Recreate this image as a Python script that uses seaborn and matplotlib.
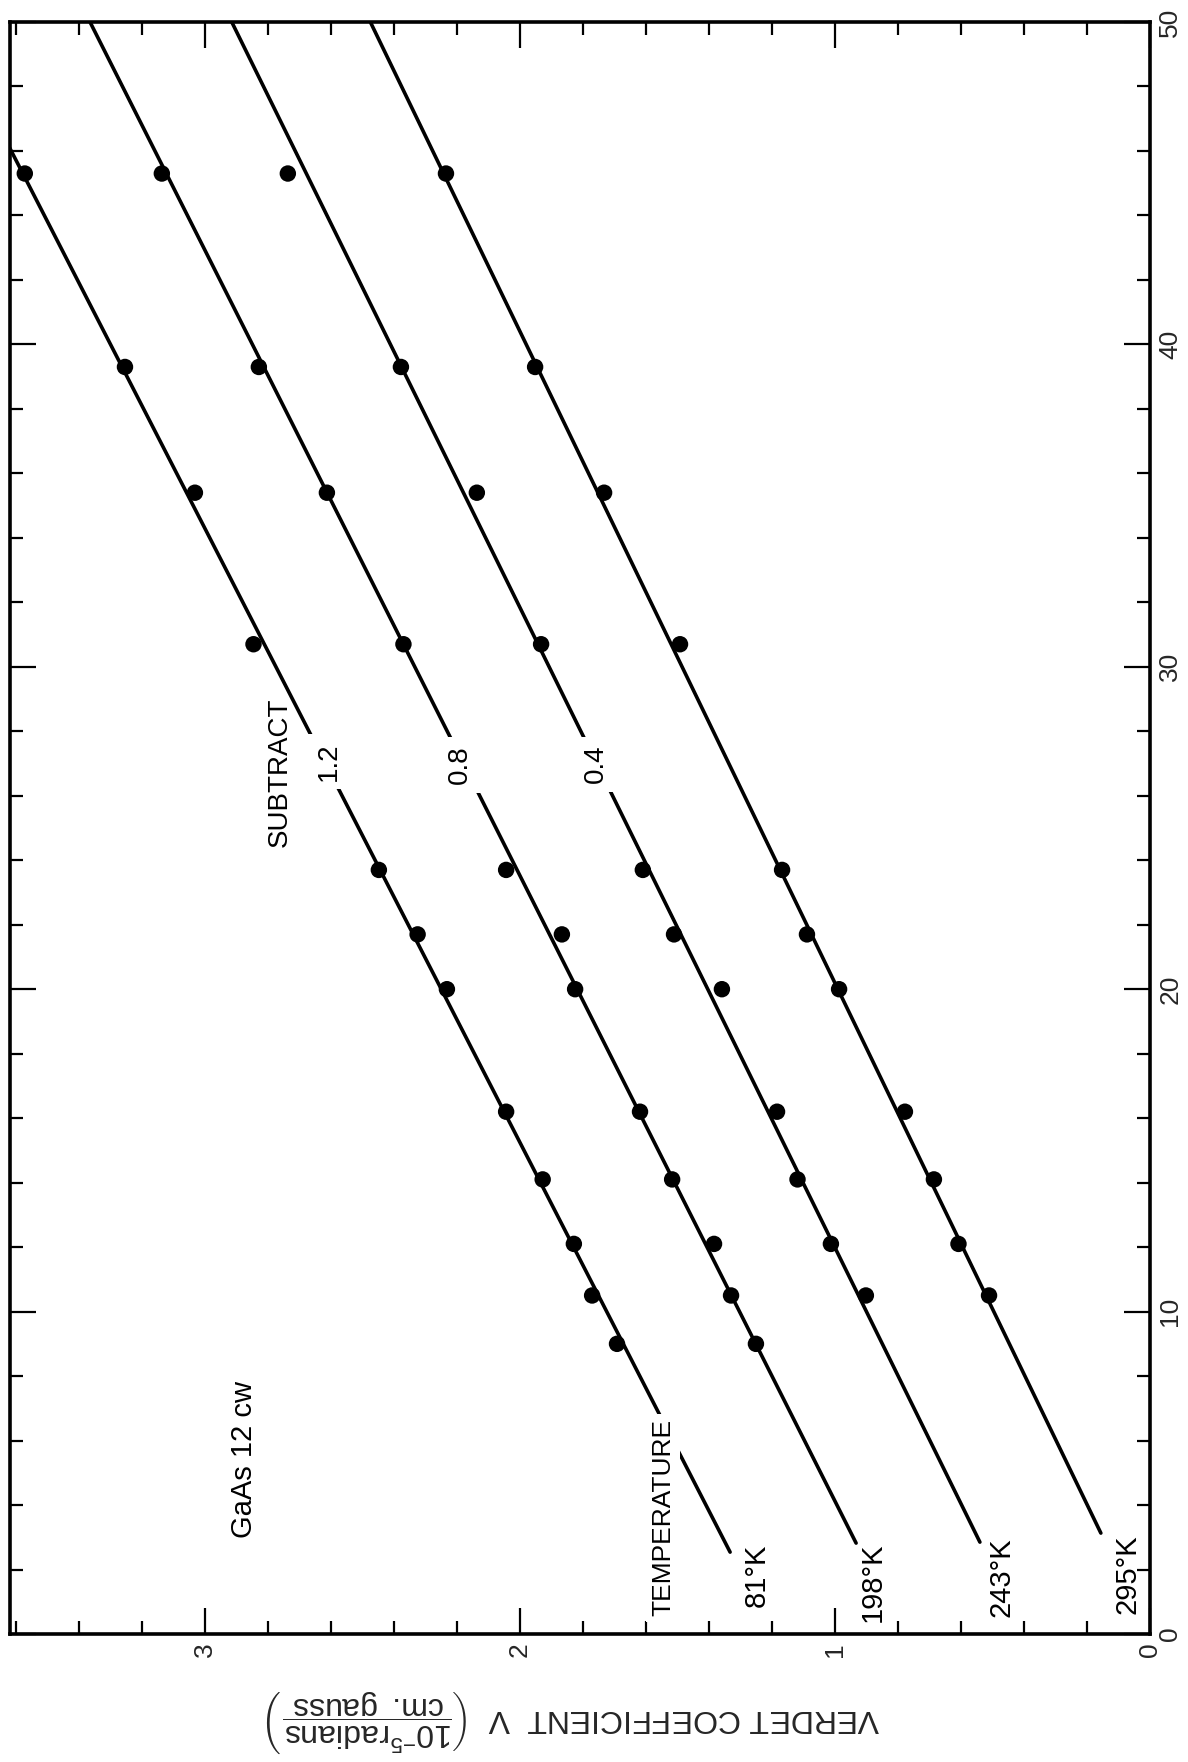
import numpy as np
import pandas as pd
import matplotlib
matplotlib.use("Agg")
import matplotlib.pyplot as plt
import seaborn as sns
from matplotlib.ticker import MultipleLocator

# page is turned a quarter turn: horizontal axis = Verdet coefficient (0 at right),
# vertical axis = the unlabelled 0-50 quantity
lam = [45.3, 39.3, 35.4, 30.7, 23.7, 21.7, 20.0, 16.2, 14.1, 12.1, 10.5, 9.0]

v_81 = [3.572, 3.254, 3.032, 2.846, 2.448, 2.325, 2.232, 2.044, 1.928, 1.829, 1.771, 1.692]
v_198 = [3.137, 2.829, 2.613, 2.370, 2.044, 1.867, 1.825, 1.619, 1.517, 1.384, 1.330, 1.251]
v_243 = [2.737, 2.378, 2.137, 1.933, 1.610, 1.511, 1.359, 1.184, 1.119, 1.013, 0.902]
v_295 = [2.235, 1.952, 1.733, 1.492, 1.168, 1.089, 0.987, 0.778, 0.686, 0.608, 0.511]

temps = ["81°K", "198°K", "243°K", "295°K"]
subtract = ["1.2", "0.8", "0.4"]

# drawn straight lines, (lam, V) at both ends
line_lam = [[2.54, 50], [2.82, 50], [2.85, 50], [3.13, 50]]
line_v = [[1.333, 3.825], [0.933, 3.365], [0.540, 2.915], [0.156, 2.475]]

pts = pd.concat([
    pd.DataFrame({"lam": lam[:len(v)], "V": v, "T": t})
    for t, v in zip(temps, [v_81, v_198, v_243, v_295])
], ignore_index=True)

lines = pd.concat([
    pd.DataFrame({"lam": l, "V": v, "T": t})
    for t, l, v in zip(temps, line_lam, line_v)
], ignore_index=True)

sns.set_style("ticks")
plt.rcParams['font.family'] = ['Liberation Sans', 'DejaVu Sans']
plt.rcParams['mathtext.fontset'] = 'custom'
plt.rcParams['mathtext.rm'] = 'Liberation Sans'
plt.rcParams['mathtext.it'] = 'Liberation Sans:italic'

fig = plt.figure(figsize=(11.88, 17.62), dpi=100)
ax = fig.add_axes([10 / 1188, 1 - 1634 / 1762, 1140 / 1188, 1612 / 1762])

sns.lineplot(data=lines, x="V", y="lam", units="T", estimator=None, sort=False,
             color="black", linewidth=2.6, ax=ax, legend=False)
sns.scatterplot(data=pts, x="V", y="lam", color="black", s=140, edgecolor="none",
                ax=ax, legend=False, zorder=3)

ax.set_xlim(3.619, 0)
ax.set_ylim(0, 50)
ax.set_xlabel("")
ax.set_ylabel("")
ax.xaxis.set_major_locator(MultipleLocator(1))
ax.xaxis.set_minor_locator(MultipleLocator(0.2))
ax.yaxis.set_major_locator(MultipleLocator(10))
ax.yaxis.set_minor_locator(MultipleLocator(2))
ax.tick_params(which="both", direction="in", top=True, bottom=True, left=True, right=True,
               labelleft=False, labelright=True, labelbottom=True, labeltop=False,
               width=1.6, color="black")
ax.tick_params(which="major", length=19, pad=6, labelsize=19)
ax.tick_params(which="minor", length=9.5)
for lab in ax.get_xticklabels() + ax.get_yticklabels():
    lab.set_rotation(90)
for lab in ax.get_yticklabels():
    lab.set_va("center")
for s in ax.spines.values():
    s.set_linewidth(2.6)
    s.set_color("black")

box = dict(facecolor="white", edgecolor="none", boxstyle="square,pad=0.3")
kw = dict(rotation=90, ha="center", va="center", color="black")

ax.text(2.762, 26.74, "SUBTRACT", fontsize=20, **kw)
for s, (v, l) in zip(subtract, [(2.606, 27.05), (2.190, 26.95), (1.759, 26.98)]):
    ax.text(v, l, s, fontsize=20, bbox=box, zorder=4, **kw)

ax.text(1.546, 3.6, "TEMPERATURE", fontsize=19, bbox=dict(facecolor="white", edgecolor="none",
        boxstyle="square,pad=0.2"), zorder=4, **kw)
for t, (v, l) in zip(temps, [(1.248, 1.83), (0.879, 1.61), (0.470, 1.77), (0.073, 1.86)]):
    ax.text(v, l, t, fontsize=21, **kw)

ax.text(2.875, 5.41, "GaAs 12 cw", fontsize=21, **kw)

fig.text(573 / 1188, 1 - 1722 / 1762,
         r"VERDET COEFFICIENT  V  $\left(\dfrac{10^{-5}\mathrm{radians}}{\mathrm{cm.\ gauss}}\right)$",
         rotation=180, ha="center", va="center", fontsize=23)

fig.savefig("out.png", dpi=100, facecolor="white")
